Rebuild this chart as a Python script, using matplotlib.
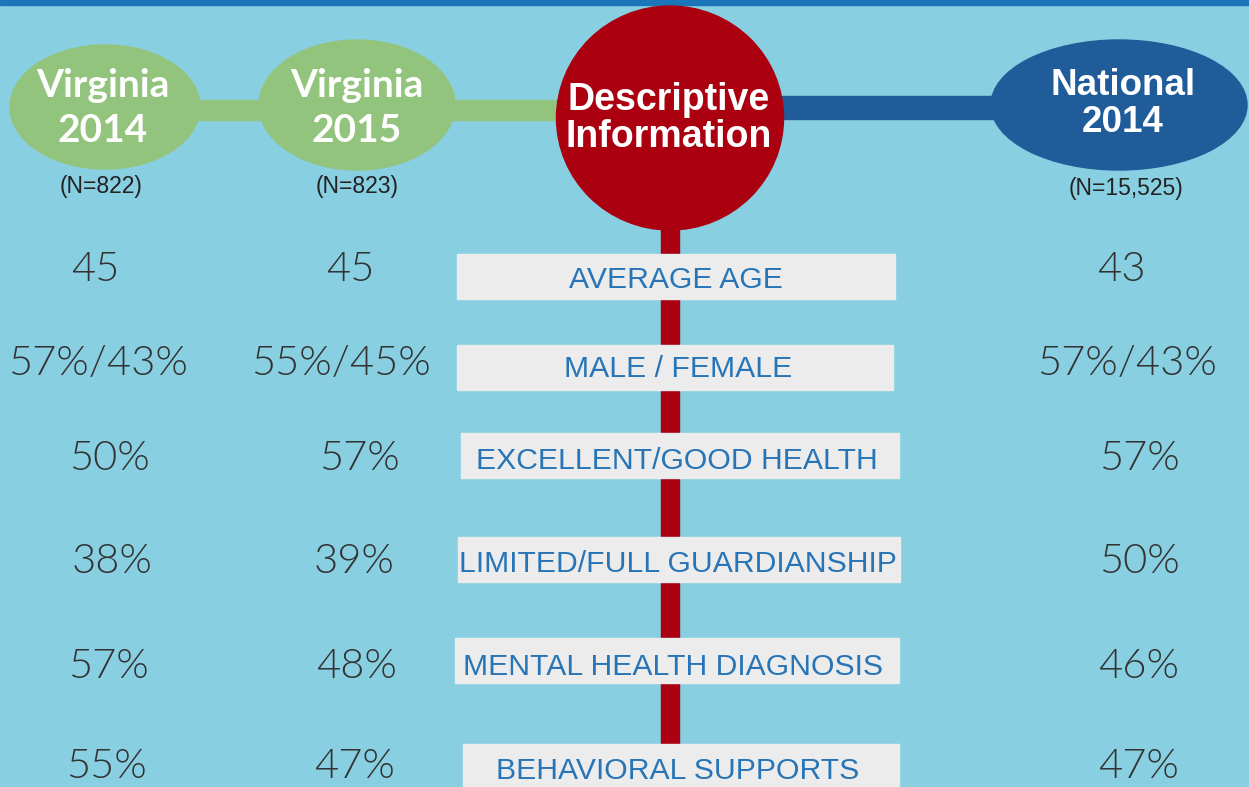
import matplotlib
matplotlib.use("Agg")
import matplotlib.pyplot as plt
from matplotlib.patches import Ellipse, Rectangle

# --- data ---
group_names = [["Virginia", "2014"], ["Virginia", "2015"], ["National", "2014"]]
group_n = ["(N=822)", "(N=823)", "(N=15,525)"]
center_title = ["Descriptive", "Information"]
row_labels = ["AVERAGE AGE", "MALE / FEMALE", "EXCELLENT/GOOD HEALTH",
              "LIMITED/FULL GUARDIANSHIP", "MENTAL HEALTH DIAGNOSIS", "BEHAVIORAL SUPPORTS"]
va_2014 = ["45", "57%/43%", "50%", "38%", "57%", "55%"]
va_2015 = ["45", "55%/45%", "57%", "39%", "48%", "47%"]
nat_2014 = ["43", "57%/43%", "57%", "50%", "46%", "47%"]

# --- layout (pixels, y down) ---
W, H = 1249, 787
bg = "#89cfe2"
green = "#93c47d"
red = "#aa0010"
navy = "#1f5c99"
box_col = "#ececec"
label_col = "#2775b6"
val_col = "#333333"

ell = [(105, 107, 190, 124, green), (357, 105, 196, 130, green), (1119, 105, 256, 130, navy)]
title_base = [(97, 142), (97, 142), (95, 132)]
title_x = [103, 357, 1123]
n_x = [101, 357, 1126]
n_y = [193, 193, 195]
row_base = [281, 375, 470, 573, 678, 778]
label_base = [288, 377, 469, 572, 675, 779]
box_top = [254, 345, 433, 537, 638, 744]
box_x = [(457, 895), (457, 893), (461, 899), (458, 900), (455, 899), (463, 899)]
label_x = [676, 678, 677, 678, 673, 678]
val_x = [[95, 98, 109, 112, 108, 106],
         [350, 341, 359, 354, 357, 355],
         [1121, 1127, 1139, 1139, 1139, 1139]]

fig = plt.figure(figsize=(W / 100, H / 100), dpi=100)
fig.patch.set_facecolor(bg)
ax = fig.add_axes([0, 0, 1, 1])
ax.set_xlim(0, W)
ax.set_ylim(H, 0)
ax.axis("off")
ax.set_facecolor(bg)

# top strip
ax.add_patch(Rectangle((0, 0), W, 5, color="#1b75b9", zorder=1))

# connectors
ax.add_patch(Rectangle((150, 100), 450, 20, color=green, zorder=1))
ax.add_patch(Rectangle((720, 95.5), 340, 23, color=navy, zorder=1))
ax.add_patch(Rectangle((661, 150), 18, H - 150, color=red, zorder=1))

# group ellipses
for (cx, cy, w, h, c) in ell:
    ax.add_patch(Ellipse((cx, cy), w, h, color=c, zorder=2))
ax.add_patch(Ellipse((670, 118), 227, 224, color=red, zorder=2))

# titles
for i, (l1, l2) in enumerate(group_names):
    fam = "Lato" if i < 2 else "Liberation Sans"
    fs = 28 if i < 2 else 26.5
    for txt, yb in zip((l1, l2), title_base[i]):
        ax.text(title_x[i], yb, txt, ha="center", va="baseline", color="white",
                fontsize=fs, fontweight="bold", family=fam, zorder=3)
    ax.text(n_x[i], n_y[i], group_n[i], ha="center", va="baseline",
            color="#222222", fontsize=16.5, family="Liberation Sans", zorder=3)

for txt, yb in zip(center_title, (110, 147)):
    ax.text(669, yb, txt, ha="center", va="baseline", color="white",
            fontsize=27, fontweight="bold", family="Liberation Sans", zorder=3)

# label boxes
for i, lab in enumerate(row_labels):
    x0, x1 = box_x[i]
    ax.add_patch(Rectangle((x0, box_top[i]), x1 - x0, 45, color=box_col, zorder=3))
    ax.text(label_x[i], label_base[i], lab, ha="center", va="baseline",
            color=label_col, fontsize=21.7, family="Liberation Sans", zorder=4)

# values
for j, col in enumerate([va_2014, va_2015, nat_2014]):
    for i, v in enumerate(col):
        ax.text(val_x[j][i], row_base[i], v, ha="center", va="baseline",
                color=val_col, fontsize=30, family="Lato", fontweight=300, zorder=4)

fig.savefig("out.png", dpi=100, facecolor=bg)
